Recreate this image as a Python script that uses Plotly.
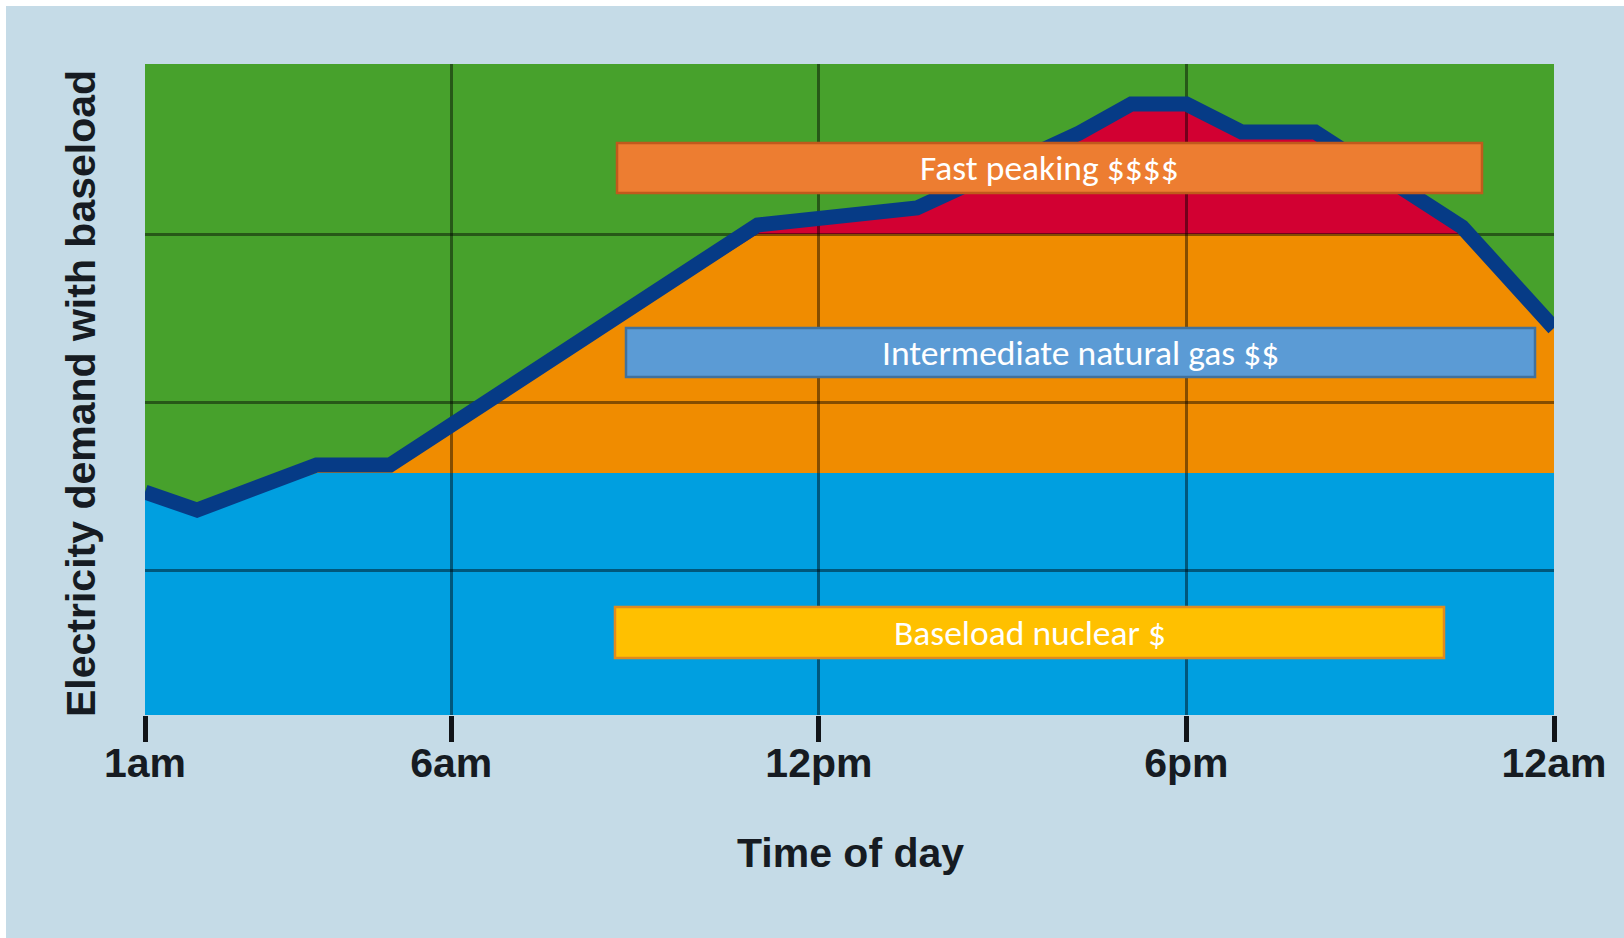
import plotly.graph_objects as go

# ---- data ----
hours = [1, 1.85, 3.8, 5, 11, 13.6, 16.25, 17.1, 18, 18.9, 20.1, 22.5, 24]
demand = [1.464, 1.357, 1.625, 1.625, 3.054, 3.155, 3.601, 3.774, 3.774, 3.607, 3.607, 3.042, 2.440]
baseload_level = 1.577
intermediate_level = 3.0
tick_hours = [1, 6, 12, 18, 24]
tick_labels = ["1am", "6am", "12pm", "6pm", "12am"]
grid_x = [6, 12, 18]
grid_y = [1, 2, 3]
y_range = [0.137, 4.012]
x_range = [1, 24]

baseload_top = [min(d, baseload_level) for d in demand]
intermediate_top = [min(d, intermediate_level) for d in demand]

# ---- styling ----
W, H = 1624, 938
L, R, T, B = 145, 1554, 64, 715
BG = "#C5DBE7"
GREEN = "#47A12C"
BLUE = "#009FE0"
ORANGE = "#F08C00"
RED = "#D20032"
NAVY = "#063B86"
TXT = "#161b22"
GRID = "rgba(0,0,0,0.45)"
AXFONT = "Liberation Sans, Arial, Helvetica, sans-serif"
BOXFONT = "Carlito, Calibri, Lato, Open Sans, sans-serif"


def px(x):  # page x -> paper x
    return (x - L) / (R - L)


def py(y):  # page y -> paper y
    return (B - y) / (B - T)


fig = go.Figure()

fig.add_trace(go.Scatter(x=hours, y=baseload_top, mode="lines", line=dict(width=0),
                         fill="tozeroy", fillcolor=BLUE, hoverinfo="skip", showlegend=False))
fig.add_trace(go.Scatter(x=hours, y=intermediate_top, mode="lines", line=dict(width=0),
                         fill="tonexty", fillcolor=ORANGE, hoverinfo="skip", showlegend=False))
fig.add_trace(go.Scatter(x=hours, y=demand, mode="lines", line=dict(width=0),
                         fill="tonexty", fillcolor=RED, hoverinfo="skip", showlegend=False))
# demand line on the upper subplot (above gridlines)
fig.add_trace(go.Scatter(x=hours, y=demand, mode="lines", xaxis="x2", yaxis="y2",
                         line=dict(color=NAVY, width=15), showlegend=False))

shapes = [
    # thin white border on top / left of the picture
    dict(type="rect", xref="paper", yref="paper", x0=px(-10), x1=px(6), y0=py(950), y1=py(-10),
         fillcolor="white", line=dict(width=0), layer="below"),
    dict(type="rect", xref="paper", yref="paper", x0=px(-10), x1=px(1640), y0=py(6), y1=py(-10),
         fillcolor="white", line=dict(width=0), layer="below"),
    # green plot background
    dict(type="rect", xref="paper", yref="paper", x0=0, x1=1, y0=0, y1=1,
         fillcolor=GREEN, line=dict(width=0), layer="below"),
]

boxes = [
    ("Fast peaking $$$$", 617, 1482, 143, 193, "#ED7D31", "#C05A1C"),
    ("Intermediate natural gas $$", 626, 1535, 328, 377, "#5B9BD5", "#41719C"),
    ("Baseload nuclear $", 615, 1444, 607, 658, "#FFC000", "#E08A1E"),
]
annotations = []
for text, x0, x1, y0, y1, fill, border in boxes:
    shapes.append(dict(type="rect", xref="paper", yref="paper", x0=px(x0), x1=px(x1),
                       y0=py(y1), y1=py(y0), fillcolor=fill, line=dict(color=border, width=2.5),
                       layer="above"))
    annotations.append(dict(text=text, xref="paper", yref="paper", x=px((x0 + x1) / 2),
                            y=py((y0 + y1) / 2), xanchor="center", yanchor="middle",
                            showarrow=False, font=dict(family=BOXFONT, size=35.5, color="white")))

annotations.append(dict(text="Time of day", xref="paper", yref="paper", x=px(850), y=py(853),
                        xanchor="center", yanchor="middle", showarrow=False,
                        font=dict(family=AXFONT, size=41, color=TXT, weight="bold")))
annotations.append(dict(text="Electricity demand with baseload", xref="paper", yref="paper",
                        x=px(81), y=py(394), xanchor="center", yanchor="middle", textangle=-90,
                        showarrow=False,
                        font=dict(family=AXFONT, size=41, color=TXT, weight="bold")))

fig.update_layout(
    width=W, height=H,
    margin=dict(l=L, r=W - R, t=T, b=H - B, pad=0),
    paper_bgcolor=BG,
    plot_bgcolor="rgba(0,0,0,0)",
    shapes=shapes,
    annotations=annotations,
    showlegend=False,
    hovermode=False,
    xaxis=dict(range=x_range, domain=[0, 1], anchor="y", showgrid=False, zeroline=False,
               showline=False, tickvals=tick_hours, ticktext=tick_labels, ticks="outside",
               ticklen=26, tickwidth=5, tickcolor="#111418", ticklabelstandoff=-14,
               tickfont=dict(family=AXFONT, size=41, color=TXT, weight="bold")),
    yaxis=dict(range=y_range, domain=[0, 1], anchor="x", showgrid=False, zeroline=False,
               showline=False, showticklabels=False, ticks=""),
    xaxis2=dict(range=x_range, domain=[0, 1], anchor="y2", showgrid=True, tickvals=grid_x,
                gridcolor=GRID, gridwidth=3, zeroline=False, showline=False,
                showticklabels=False, ticks=""),
    yaxis2=dict(range=y_range, domain=[0, 1], anchor="x2", showgrid=True, tickvals=grid_y,
                gridcolor=GRID, gridwidth=3, zeroline=False, showline=False,
                showticklabels=False, ticks=""),
)

fig.write_html("out.html",
               config={"displayModeBar": False},
               post_script="document.body.style.margin='0';document.body.style.overflow='hidden';")
